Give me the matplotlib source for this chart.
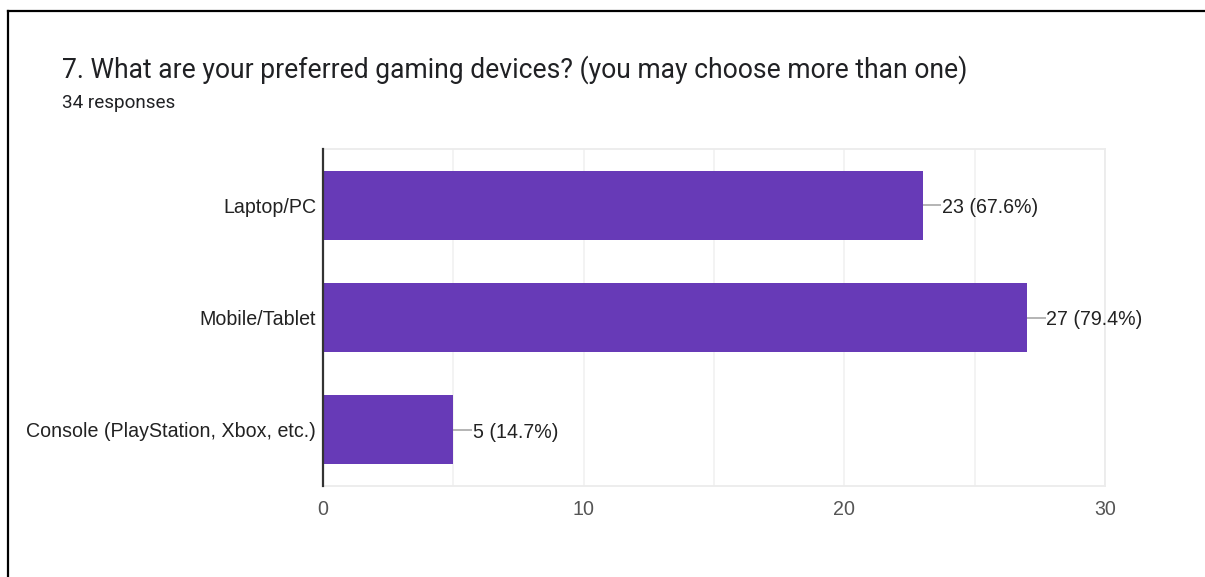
import matplotlib
matplotlib.use("Agg")
import matplotlib.pyplot as plt
from matplotlib.lines import Line2D

# survey answers (count of respondents per device)
devices = ["Laptop/PC", "Mobile/Tablet", "Console (PlayStation, Xbox, etc.)"]
counts = [23, 27, 5]
total_responses = 34
xticks = [0, 10, 20, 30]

bar_color = "#673AB7"
chart_font = "Liberation Sans"

fig = plt.figure(figsize=(12.05, 5.77), dpi=100)
fig.patch.set_facecolor("white")

# frame lines along the top and left edge
fig.add_artist(Line2D([8 / 1205, 1], [1 - 11 / 577, 1 - 11 / 577], color="black", lw=1.6))
fig.add_artist(Line2D([8 / 1205, 8 / 1205], [0, 1 - 11 / 577], color="black", lw=1.6))

fig.text(62 / 1205, 1 - 70 / 577, "7. What are your preferred gaming devices? (you may choose more than one)",
         fontsize=19.1, family="Roboto", color="#202124", va="center", ha="left")
fig.text(62 / 1205, 1 - 103 / 577, f"{total_responses} responses",
         fontsize=13.6, family="Roboto", color="#202124", va="center", ha="left")

ax = fig.add_axes([323 / 1205, 1 - 486 / 577, (1105 - 323) / 1205, (486 - 149) / 577])
ypos = list(range(len(devices)))
ax.barh(ypos, counts, height=0.615, color=bar_color, zorder=3)
ax.set_ylim(len(devices) - 0.5, -0.5)
ax.set_xlim(0, 30)

# light vertical gridlines every 5
for g in range(5, 31, 5):
    ax.axvline(g, color="#f1f1f1", lw=1.2, zorder=1)

# value labels with a short leader line
for y, c in zip(ypos, counts):
    ax.plot([c, c + 0.72], [y, y], color="#a0a0a0", lw=1.1, zorder=2, solid_capstyle="butt")
    pct = 100 * c / total_responses
    ax.text(c + 0.74, y + 0.02, f"{c} ({pct:.1f}%)", va="center", ha="left",
            fontsize=14.1, family=chart_font, color="#222222")

ax.set_yticks(ypos)
ax.set_yticklabels(devices, fontsize=14.1, family=chart_font, color="#222222")
ax.set_xticks(xticks)
ax.set_xticklabels([str(t) for t in xticks], fontsize=14.1, family=chart_font, color="#555555")
ax.tick_params(axis="both", length=0)
ax.tick_params(axis="y", pad=5)
ax.tick_params(axis="x", pad=10)

ax.spines["left"].set_color("#333333")
ax.spines["left"].set_linewidth(1.6)
ax.spines["left"].set_zorder(4)
for s in ["top", "right", "bottom"]:
    ax.spines[s].set_color("#ececec")
    ax.spines[s].set_linewidth(1.3)

fig.savefig("out.png", dpi=100, facecolor="white")
